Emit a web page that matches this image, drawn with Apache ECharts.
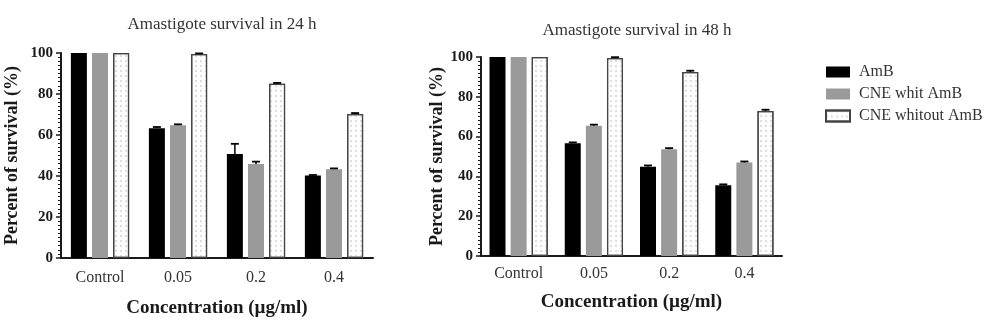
<!DOCTYPE html>
<html>
<head>
<meta charset="utf-8">
<script src="https://cdn.jsdelivr.net/npm/echarts@6/dist/echarts.min.js"></script>
<style>
  html, body { margin: 0; padding: 0; background: #fff; }
  #chart { width: 1000px; height: 322px; }
</style>
</head>
<body>
<div id="chart"></div>
<script>
// Concentration groups shared by both panels
const categories = ['Control', '0.05', '0.2', '0.4'];
const yTicks = [0, 20, 40, 60, 80, 100];
const seriesNames = ['AmB', 'CNE whit AmB', 'CNE whitout AmB'];

// Survival after 24 h (%), with upper error (SD)
const amb24 = [100, 63.3, 50.7, 40.2];
const cneWith24 = [100, 64.7, 45.8, 43.3];
const cneWithout24 = [100, 99.5, 85.0, 70.2];
const amb24Err = [0, 0.6, 5.0, 0.3];
const cneWith24Err = [0, 0.5, 1.2, 0.4];
const cneWithout24Err = [0, 0.3, 0.4, 0.5];

// Survival after 48 h (%), with upper error (SD)
const amb48 = [100, 56.7, 44.9, 35.6];
const cneWith48 = [100, 65.5, 53.6, 47.0];
const cneWithout48 = [100, 99.5, 92.4, 72.9];
const amb48Err = [0, 0.4, 0.6, 0.4];
const cneWith48Err = [0, 0.5, 0.6, 0.5];
const cneWithout48Err = [0, 0.4, 0.7, 0.6];

const FONT = '"Liberation Serif", "Times New Roman", serif';
const INK = '#1a1a1a';
const BAR_W = 16;
const BAR_GAP = 0.32; // fraction of bar width
const STEP = BAR_W * (1 + BAR_GAP);
const offsets = [-STEP, 0, STEP];

const styles = [
  { color: '#000000' },
  { color: '#9a9a9a' },
  {
    color: '#ffffff',
    borderColor: '#444444',
    borderWidth: 1.2,
    decal: {
      symbol: 'circle',
      symbolSize: 0.7,
      dashArrayX: [[1.6, 2.6]],
      dashArrayY: [1.6, 2.6],
      color: '#a5a5a5',
      rotation: 0
    }
  }
];

function makeErrorSeries(idx, values, errors, gridIdx) {
  const off = offsets[idx];
  return {
    type: 'custom',
    name: 'err-' + idx + '-' + gridIdx,
    xAxisIndex: gridIdx,
    yAxisIndex: gridIdx,
    z: 5,
    silent: true,
    data: values.map((v, i) => [i, v, errors[i]]),
    renderItem: function (params, api) {
      const e = api.value(2);
      if (!e) return null;
      const base = api.coord([api.value(0), api.value(1)]);
      const top = api.coord([api.value(0), api.value(1) + e]);
      const cx = base[0] + off;
      return {
        type: 'group',
        children: [
          { type: 'line', shape: { x1: cx, y1: base[1], x2: cx, y2: top[1] },
            style: { stroke: '#000', lineWidth: 1.5 } },
          { type: 'line', shape: { x1: cx - 4, y1: top[1], x2: cx + 4, y2: top[1] },
            style: { stroke: '#000', lineWidth: 1.8 } }
        ]
      };
    }
  };
}

function makeBarSeries(idx, values, gridIdx) {
  return {
    type: 'bar',
    name: seriesNames[idx],
    xAxisIndex: gridIdx,
    yAxisIndex: gridIdx,
    barWidth: BAR_W,
    barGap: (BAR_GAP * 100) + '%',
    itemStyle: styles[idx],
    emphasis: { disabled: true },
    data: values
  };
}

function xAxis(gridIdx, nameGap, labelMargin) {
  return {
    type: 'category',
    gridIndex: gridIdx,
    data: categories,
    axisLine: { lineStyle: { color: INK, width: 2 } },
    axisTick: { alignWithLabel: true, length: 4, lineStyle: { color: INK, width: 2 } },
    axisLabel: { fontFamily: FONT, fontSize: 16, color: '#333', margin: labelMargin },
    name: 'Concentration (µg/ml)',
    nameLocation: 'middle',
    nameGap: nameGap,
    nameTextStyle: { fontFamily: FONT, fontSize: 19, fontWeight: 'bold', color: INK }
  };
}

function yAxis(gridIdx, nameGap) {
  return {
    type: 'value',
    gridIndex: gridIdx,
    min: yTicks[0],
    max: yTicks[yTicks.length - 1],
    interval: yTicks[1] - yTicks[0],
    splitLine: { show: false },
    axisLine: { show: true, lineStyle: { color: INK, width: 2 } },
    axisTick: { show: true, length: 5, lineStyle: { color: INK, width: 1.5 } },
    minorTick: { show: true, splitNumber: 10, length: 3, lineStyle: { color: INK, width: 1 } },
    axisLabel: { fontFamily: FONT, fontSize: 15, fontWeight: 'bold', color: INK, margin: 8 },
    name: 'Percent of survival (%)',
    nameLocation: 'middle',
    nameRotate: 90,
    nameGap: nameGap,
    nameTextStyle: { fontFamily: FONT, fontSize: 18, fontWeight: 'bold', color: INK }
  };
}

const chart = echarts.init(document.getElementById('chart'), null, { renderer: 'canvas' });

chart.setOption({
  animation: false,
  backgroundColor: '#ffffff',
  title: [
    { text: 'Amastigote survival in 24 h', left: 217, top: 11, textAlign: 'center',
      textStyle: { fontFamily: FONT, fontSize: 17, fontWeight: 'normal', color: '#333' } },
    { text: 'Amastigote survival in 48 h', left: 632, top: 17, textAlign: 'center',
      textStyle: { fontFamily: FONT, fontSize: 17, fontWeight: 'normal', color: '#333' } }
  ],
  legend: {
    data: seriesNames,
    orient: 'vertical',
    left: 825,
    top: 64,
    padding: 0,
    itemWidth: 24,
    itemHeight: 11,
    itemGap: 6,
    icon: 'rect',
    selectedMode: false,
    textStyle: { fontFamily: FONT, fontSize: 16, color: '#333', padding: [0, 0, 0, 4] }
  },
  grid: [
    { left: 61, top: 53, width: 312, height: 205, outerBoundsMode: 'none' },
    { left: 481, top: 57, width: 301, height: 199, outerBoundsMode: 'none' }
  ],
  xAxis: [xAxis(0, 41, 12), xAxis(1, 37, 10)],
  yAxis: [yAxis(0, 40), yAxis(1, 34)],
  series: [
    makeBarSeries(0, amb24, 0),
    makeBarSeries(1, cneWith24, 0),
    makeBarSeries(2, cneWithout24, 0),
    makeBarSeries(0, amb48, 1),
    makeBarSeries(1, cneWith48, 1),
    makeBarSeries(2, cneWithout48, 1),
    makeErrorSeries(0, amb24, amb24Err, 0),
    makeErrorSeries(1, cneWith24, cneWith24Err, 0),
    makeErrorSeries(2, cneWithout24, cneWithout24Err, 0),
    makeErrorSeries(0, amb48, amb48Err, 1),
    makeErrorSeries(1, cneWith48, cneWith48Err, 1),
    makeErrorSeries(2, cneWithout48, cneWithout48Err, 1)
  ]
});
</script>
</body>
</html>
